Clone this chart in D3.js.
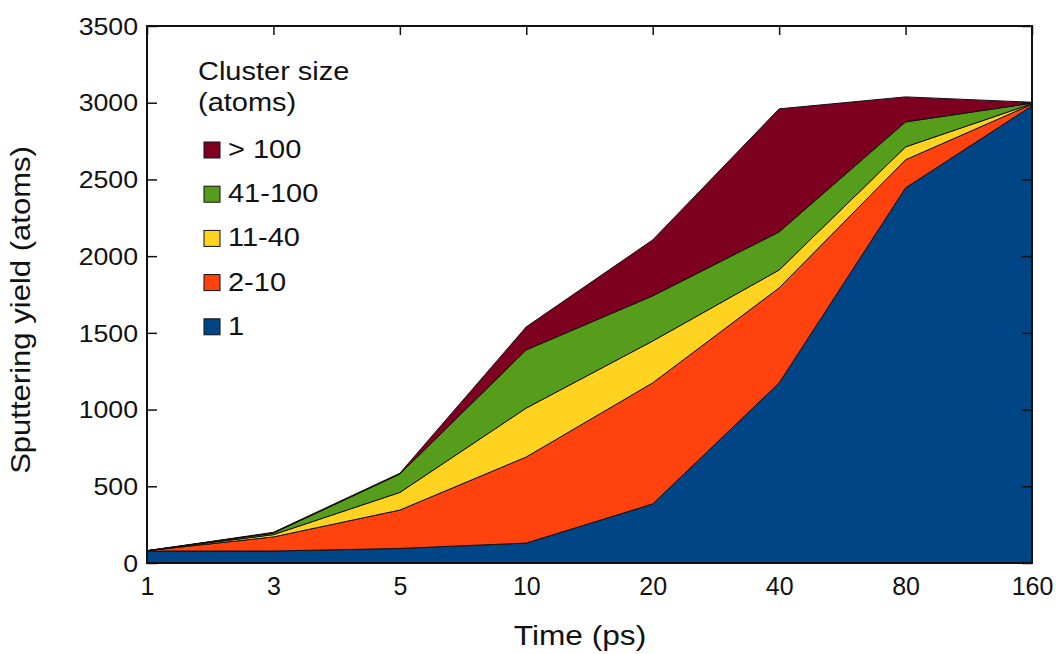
<!DOCTYPE html>
<html>
<head>
<meta charset="utf-8">
<script src="https://cdn.jsdelivr.net/npm/d3@7"></script>
<style>
  body { margin: 0; background: #fff; }
  text { font-family: "Liberation Sans", Arial, sans-serif; fill: #111; }
</style>
</head>
<body>
<div id="chart"></div>
<script>
// data
var times = ["1", "3", "5", "10", "20", "40", "80", "160"];
var sizes = ["1", "2-10", "11-40", "41-100", "> 100"];
var single   = [78, 78, 95, 130, 385, 1174, 2445, 2980];
var small    = [2, 92, 250, 561, 789, 619, 183, 10];
var medium   = [0, 15, 115, 319, 273, 117, 84, 3];
var large    = [0, 10, 120, 379, 294, 248, 163, 4];
var huge     = [0, 5, 5, 150, 365, 802, 163, 6];
var yTicks = [0, 500, 1000, 1500, 2000, 2500, 3000, 3500];
var colors = ["#004586", "#ff420e", "#ffd320", "#579d1c", "#7e0021"];

var series = [single, small, medium, large, huge];
var rows = times.map(function(t, i) {
  var r = {t: t};
  sizes.forEach(function(s, k) { r[s] = series[k][i]; });
  return r;
});

var width = 1056, height = 654;
var margin = {top: 26, right: 24, bottom: 91, left: 147};
var w = width - margin.left - margin.right;
var h = height - margin.top - margin.bottom;
var stretch = 1.16; // the original's lettering is a bit wider than Liberation Sans

var svg = d3.select("#chart").append("svg")
  .attr("width", width)
  .attr("height", height);

var g = svg.append("g")
  .attr("transform", "translate(" + margin.left + "," + margin.top + ")");

var x = d3.scalePoint().domain(times).range([0, w]);
var y = d3.scaleLinear().domain([0, 3500]).range([h, 0]);

var layers = d3.stack().keys(sizes)(rows);

var area = d3.area()
  .x(function(d) { return x(d.data.t); })
  .y0(function(d) { return y(d[0]); })
  .y1(function(d) { return y(d[1]); });

g.selectAll(".layer")
  .data(layers)
  .enter().append("path")
  .attr("class", "layer")
  .attr("d", area)
  .attr("fill", function(d, i) { return colors[i]; })
  .attr("stroke", "#111")
  .attr("stroke-width", 1)
  .attr("stroke-linejoin", "round");

// frame
g.append("rect")
  .attr("width", w).attr("height", h)
  .attr("fill", "none").attr("stroke", "#111").attr("stroke-width", 2);

// axes, ticks pointing inward
var yAxis = g.append("g")
  .call(d3.axisLeft(y).tickValues(yTicks).tickSize(-10).tickFormat(d3.format("d")));
var yAxisR = g.append("g")
  .attr("transform", "translate(" + w + ",0)")
  .call(d3.axisRight(y).tickValues(yTicks).tickSize(-10).tickFormat(""));
var xTop = g.append("g")
  .call(d3.axisTop(x).tickSize(-9).tickFormat(""));
var xAxis = g.append("g")
  .attr("transform", "translate(0," + h + ")")
  .call(d3.axisBottom(x).tickSize(0));

[yAxis, yAxisR, xTop, xAxis].forEach(function(a) {
  a.select(".domain").remove();
  a.attr("font-family", null).attr("font-size", null);
  a.selectAll("line").attr("stroke", "#111").attr("stroke-width", 1.5);
});

yAxis.selectAll("text")
  .style("font-size", "23px")
  .attr("x", -9 / stretch)
  .attr("dy", "0.36em")
  .attr("transform", "scale(" + stretch + ",1)");

xAxis.selectAll("text")
  .style("font-size", "25px")
  .attr("y", 32)
  .attr("dy", null);

// axis titles
svg.append("text")
  .attr("transform", "translate(580,645) scale(1.13,1)")
  .attr("text-anchor", "middle")
  .style("font-size", "28px")
  .text("Time (ps)");

svg.append("text")
  .attr("transform", "translate(30,310) rotate(-90) scale(1.15,1)")
  .attr("text-anchor", "middle")
  .style("font-size", "27px")
  .text("Sputtering yield (atoms)");

// legend
var legend = svg.append("g").attr("transform", "translate(198,0)");
legend.append("text")
  .attr("transform", "translate(0,80) scale(" + stretch + ",1)")
  .style("font-size", "25px").text("Cluster size");
legend.append("text")
  .attr("transform", "translate(0,111) scale(" + stretch + ",1)")
  .style("font-size", "25px").text("(atoms)");

var items = sizes.slice().reverse();
var itemColors = colors.slice().reverse();
var li = legend.selectAll(".li")
  .data(items)
  .enter().append("g")
  .attr("class", "li")
  .attr("transform", function(d, i) { return "translate(6," + (142 + i * 44.2) + ")"; });

li.append("rect")
  .attr("width", 16).attr("height", 16)
  .attr("fill", function(d, i) { return itemColors[i]; })
  .attr("stroke", "#111").attr("stroke-width", 1);

li.append("text")
  .attr("transform", "translate(24,16) scale(" + stretch + ",1)")
  .style("font-size", "25px")
  .text(function(d) { return d; });
</script>
</body>
</html>
